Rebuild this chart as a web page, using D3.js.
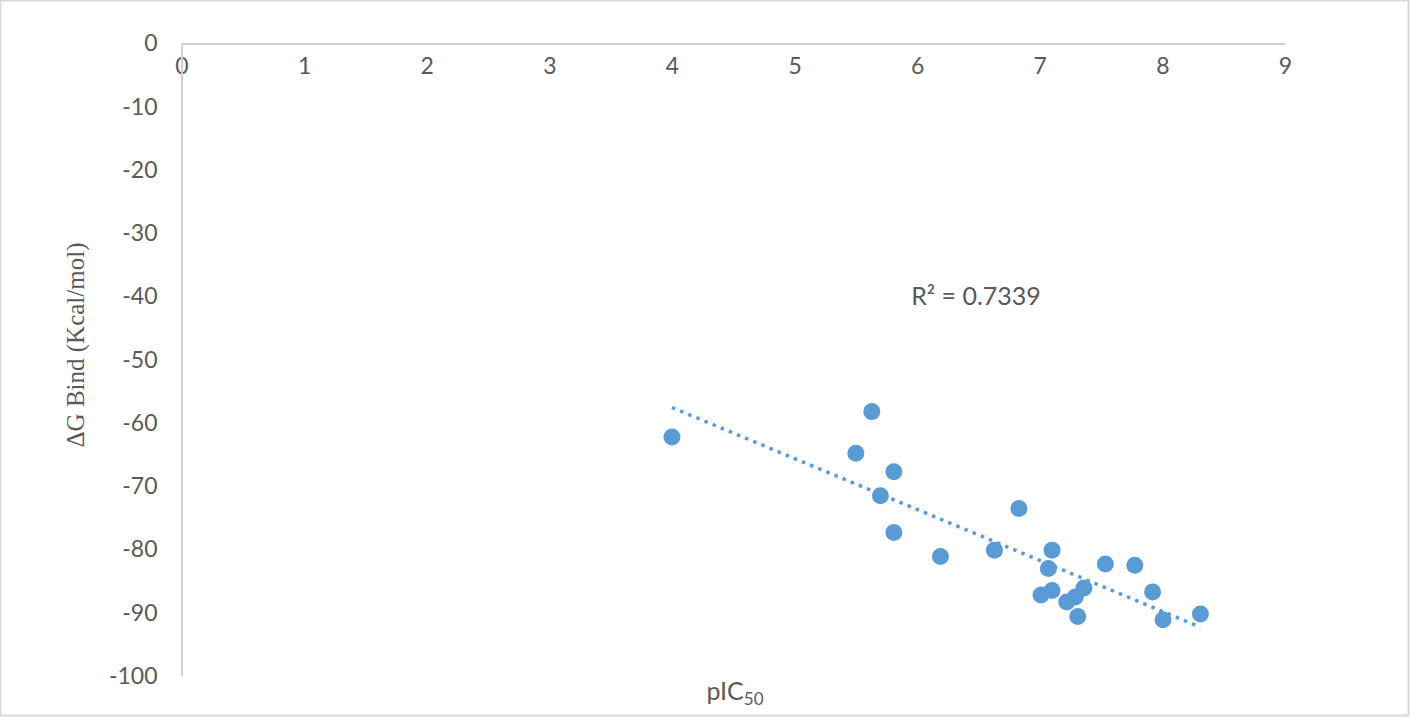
<!DOCTYPE html>
<html>
<head>
<meta charset="utf-8">
<style>
  body { margin: 0; background: #fff; }
  .axis path { stroke: #d0d0d0; stroke-width: 2; }
  .axis text { fill: #595959; font-family: Lato, "Liberation Sans", sans-serif; font-size: 23px; }
</style>
</head>
<body>
<svg width="1410" height="717"></svg>
<script src="https://cdnjs.cloudflare.com/ajax/libs/d3/7.8.5/d3.min.js"></script>
<script>

// pIC50 vs binding free energy
var pic50 = [4.00, 5.63, 5.50, 5.81, 5.70, 5.81, 6.19, 6.83, 6.63, 7.10, 7.07,
             7.535, 7.775, 7.92, 7.01, 7.10, 7.22, 7.29, 7.36, 7.31, 8.005, 8.31];
var dGbind = [-62.2, -58.2, -64.8, -67.7, -71.5, -77.3, -81.1, -73.5, -80.1, -80.1, -83.0,
              -82.3, -82.5, -86.7, -87.2, -86.5, -88.3, -87.5, -86.1, -90.6, -91.1, -90.2];
var xTicks = [0, 1, 2, 3, 4, 5, 6, 7, 8, 9];
var yTicks = [0, -10, -20, -30, -40, -50, -60, -70, -80, -90, -100];
var r2Label = "R² = 0.7339";

var svg = d3.select("svg"),
    margin = {top: 43.5, right: 125, bottom: 41, left: 181.5},
    width = +svg.attr("width") - margin.left - margin.right,
    height = +svg.attr("height") - margin.top - margin.bottom,
    g = svg.append("g").attr("transform", "translate(" + margin.left + "," + margin.top + ")");

// light frame round the chart area
svg.append("rect")
    .attr("x", 0.5).attr("y", 0.5)
    .attr("width", 1408).attr("height", 715)
    .attr("fill", "none")
    .attr("stroke", "#d9d9d9")
    .attr("stroke-width", 2);

var x = d3.scaleLinear().domain([0, 9]).range([0, width]);
var y = d3.scaleLinear().domain([-100, 0]).range([height, 0]);

// plain hyphen for negatives, like the original
var fmt = function(d) { return String(d); };

var data = pic50.map(function(d, i) { return {x: d, y: dGbind[i]}; });

// x axis sits on y = 0 (top), labels below the line
g.append("g")
    .attr("class", "axis")
    .call(d3.axisBottom(x).tickValues(xTicks).tickSize(0).tickPadding(22).tickFormat(fmt))
    .call(function(a) { a.selectAll("text").attr("dy", "0.35em"); });

g.append("g")
    .attr("class", "axis")
    .call(d3.axisLeft(y).tickValues(yTicks).tickSize(0).tickPadding(24).tickFormat(fmt));

// linear least-squares trendline over the data range
var mx = d3.mean(data, function(d) { return d.x; }),
    my = d3.mean(data, function(d) { return d.y; }),
    slope = d3.sum(data, function(d) { return (d.x - mx) * (d.y - my); }) /
            d3.sum(data, function(d) { return (d.x - mx) * (d.x - mx); }),
    icpt = my - slope * mx,
    ext = d3.extent(data, function(d) { return d.x; });

g.append("line")
    .attr("x1", x(ext[0])).attr("y1", y(icpt + slope * ext[0]))
    .attr("x2", x(ext[1])).attr("y2", y(icpt + slope * ext[1]))
    .attr("stroke", "#5b9bd5")
    .attr("stroke-width", 3.5)
    .attr("stroke-dasharray", "3.5,5.3");

g.selectAll("circle")
    .data(data)
  .enter().append("circle")
    .attr("cx", function(d) { return x(d.x); })
    .attr("cy", function(d) { return y(d.y); })
    .attr("r", 8.5)
    .attr("fill", "#5b9bd5");

g.append("text")
    .attr("x", x(6.48))
    .attr("y", y(-40))
    .attr("dy", "0.35em")
    .attr("text-anchor", "middle")
    .attr("fill", "#595959")
    .style("font", "25px Lato, 'Liberation Sans', sans-serif")
    .text(r2Label);

// axis titles
svg.append("text")
    .attr("transform", "translate(75,345) rotate(-90)")
    .attr("dy", "0.35em")
    .attr("text-anchor", "middle")
    .attr("fill", "#595959")
    .style("font", "25px 'Liberation Serif', serif")
    .text("ΔG Bind (Kcal/mol)");

var xt = svg.append("text")
    .attr("x", 735)
    .attr("y", 700)
    .attr("text-anchor", "middle")
    .attr("fill", "#595959")
    .style("font", "25px Lato, 'Liberation Sans', sans-serif");
xt.append("tspan").text("pIC");
xt.append("tspan").attr("dy", 5).style("font-size", "17px").text("50");

</script>
</body>
</html>
